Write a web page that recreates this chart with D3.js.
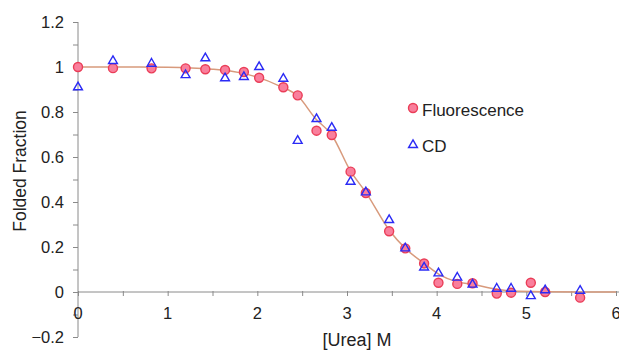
<!DOCTYPE html>
<html>
<head>
<meta charset="utf-8">
<script src="https://cdn.jsdelivr.net/npm/d3@7"></script>
<style>
  body { margin: 0; background: #fff; }
  svg text { font-family: "Liberation Sans", Arial, Helvetica, sans-serif; fill: #222; }
</style>
</head>
<body>
<div class="chart"></div>
<script>
// urea concentrations (M) shared by both measurements
var urea = [0, 0.39, 0.82, 1.2, 1.42, 1.64, 1.85, 2.02, 2.29, 2.45, 2.66, 2.83, 3.04, 3.21, 3.47, 3.65, 3.86, 4.02, 4.23, 4.40, 4.67, 4.83, 5.05, 5.21, 5.6];
var fluorescence = [1.0, 0.995, 0.994, 0.994, 0.99, 0.987, 0.978, 0.952, 0.91, 0.874, 0.717, 0.698, 0.535, 0.44, 0.27, 0.194, 0.127, 0.041, 0.036, 0.039, -0.007, -0.003, 0.041, 0.0, -0.025];
var cd = [0.91, 1.027, 1.015, 0.964, 1.039, 0.95, 0.956, 1.0, 0.948, 0.672, 0.769, 0.73, 0.49, 0.443, 0.32, 0.194, 0.109, 0.083, 0.064, 0.033, 0.015, 0.015, -0.018, 0.008, 0.006];

// fitted curve
var fitX = [0, 0.5, 1, 1.5, 1.8, 2.0, 2.25, 2.45, 2.65, 2.83, 3.04, 3.21, 3.48, 3.65, 3.86, 4.04, 4.22, 4.4, 4.67, 4.85, 5.2, 5.6, 6];
var fitY = [1.0, 1.0, 0.999, 0.99, 0.975, 0.955, 0.915, 0.872, 0.77, 0.698, 0.537, 0.443, 0.27, 0.194, 0.127, 0.075, 0.046, 0.034, 0.012, 0.004, 0.001, 0.0, 0.0];

var xTicks = [0, 1, 2, 3, 4, 5, 6];
var yTicks = [-0.2, 0, 0.2, 0.4, 0.6, 0.8, 1, 1.2];

var width = 619, height = 350;
var margin = {top: 22, right: 3, bottom: 13, left: 78};

var x = d3.scaleLinear().domain([0, 6]).range([margin.left, 616]);
var y = d3.scaleLinear().domain([-0.2, 1.2]).range([337, margin.top]);

var svg = d3.select('.chart').append('svg')
  .attr('width', width)
  .attr('height', height);

var axisColor = '#8a8a8a';

// Y axis
var yAxis = svg.append('g')
  .attr('transform', 'translate(' + x(0) + ',0)')
  .call(d3.axisLeft(y).tickValues(d3.range(-0.2, 1.21, 0.1)).tickSize(5).tickFormat(''));
yAxis.select('.domain').attr('stroke', axisColor).attr('d', 'M0,' + y(1.2) + 'V' + y(-0.2));
yAxis.selectAll('.tick line').attr('stroke', axisColor);

svg.append('g').selectAll('text')
  .data(yTicks)
  .join('text')
  .attr('x', 64)
  .attr('y', function(d) { return y(d); })
  .attr('dy', '0.36em')
  .attr('text-anchor', 'end')
  .style('font-size', '16.5px')
  .text(function(d) { return d === 0 || d === 1 ? d3.format('d')(d) : (d < 0 ? '\u2212' + Math.abs(d).toFixed(1) : d.toFixed(1)); });

// X axis along y = 0
var xAxis = svg.append('g')
  .attr('transform', 'translate(0,' + y(0) + ')')
  .call(d3.axisBottom(x).tickValues(d3.range(0, 6.01, 0.5)).tickSize(4).tickFormat(''));
xAxis.select('.domain').attr('stroke', axisColor).attr('d', 'M' + x(0) + ',0H' + width);
xAxis.selectAll('.tick line').attr('stroke', axisColor).attr('y1', -1);

svg.append('g').selectAll('text')
  .data(xTicks)
  .join('text')
  .attr('x', function(d) { return x(d); })
  .attr('y', 319)
  .attr('text-anchor', 'middle')
  .style('font-size', '16.5px')
  .text(function(d) { return d; });

// axis titles
svg.append('text')
  .attr('transform', 'translate(26,171) rotate(-90)')
  .attr('text-anchor', 'middle')
  .style('font-size', '17.5px')
  .text('Folded Fraction');

svg.append('text')
  .attr('x', 357)
  .attr('y', 346)
  .attr('text-anchor', 'middle')
  .style('font-size', '18px')
  .text('[Urea] M');

// fitted curve
var fit = fitX.map(function(d, i) { return [d, fitY[i]]; });
svg.append('path')
  .datum(fit)
  .attr('fill', 'none')
  .attr('stroke', '#d89a7c')
  .attr('stroke-width', 1.5)
  .attr('d', d3.line()
    .x(function(d) { return x(d[0]); })
    .y(function(d) { return y(d[1]); })
    .curve(d3.curveMonotoneX));

var tri = d3.symbol().type(d3.symbolTriangle).size(34);

// fluorescence points
svg.append('g').selectAll('circle')
  .data(urea)
  .join('circle')
  .attr('cx', function(d) { return x(d); })
  .attr('cy', function(d, i) { return y(fluorescence[i]); })
  .attr('r', 4.5)
  .attr('fill', '#f97f9c')
  .attr('stroke', '#ea3d57')
  .attr('stroke-width', 1.4);

// CD points
svg.append('g').selectAll('path')
  .data(urea)
  .join('path')
  .attr('transform', function(d, i) { return 'translate(' + x(d) + ',' + y(cd[i]) + ')'; })
  .attr('d', tri)
  .attr('fill', 'none')
  .attr('stroke', '#2b2bf5')
  .attr('stroke-width', 1.4);

// legend
var legend = svg.append('g');
legend.append('circle')
  .attr('cx', 413).attr('cy', 108).attr('r', 4.5)
  .attr('fill', '#f97f9c').attr('stroke', '#ea3d57').attr('stroke-width', 1.4);
legend.append('text')
  .attr('x', 422).attr('y', 110).attr('dy', '0.35em')
  .style('font-size', '17px')
  .text('Fluorescence');
legend.append('path')
  .attr('transform', 'translate(413,145)')
  .attr('d', tri)
  .attr('fill', 'none').attr('stroke', '#2b2bf5').attr('stroke-width', 1.4);
legend.append('text')
  .attr('x', 422).attr('y', 146).attr('dy', '0.35em')
  .style('font-size', '17px')
  .text('CD');
</script>
</body>
</html>
